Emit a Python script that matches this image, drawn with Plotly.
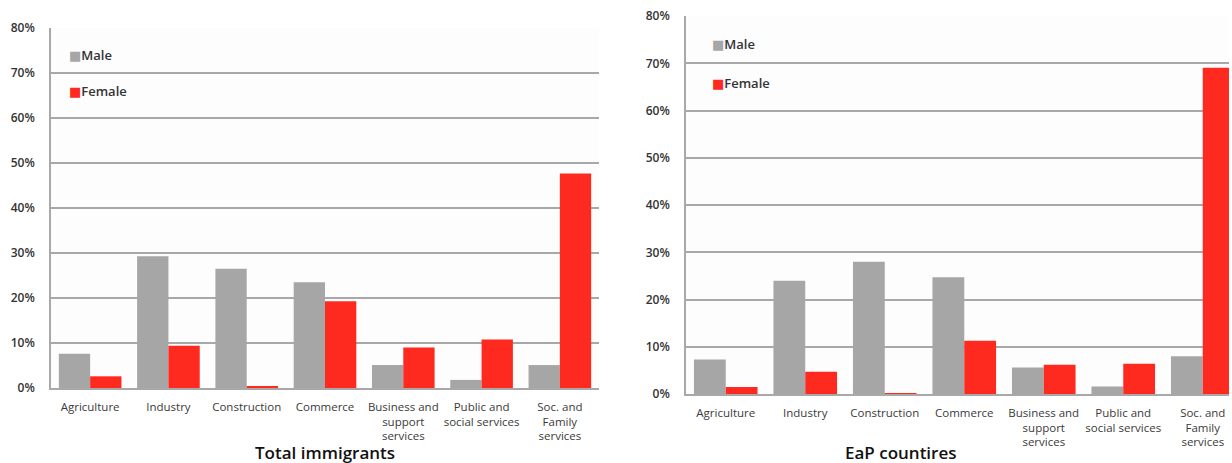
import plotly.graph_objects as go

categories = ["Agriculture", "Industry", "Construction", "Commerce",
              "Business and<br>support<br>services", "Public and<br>social services",
              "Soc. and<br>Family<br>services"]
total_male = [7.6, 29.3, 26.5, 23.5, 5.1, 1.8, 5.1]
total_female = [2.6, 9.4, 0.4, 19.3, 9.0, 10.8, 47.7]
eap_male = [7.3, 24.0, 28.0, 24.7, 5.6, 1.6, 8.0]
eap_female = [1.5, 4.7, 0.2, 11.3, 6.2, 6.4, 69.1]
y_ticks = [0, 10, 20, 30, 40, 50, 60, 70, 80]
y_tick_labels = ["0%", "10%", "20%", "30%", "40%", "50%", "60%", "70%", "80%"]
titles = ["Total immigrants", "EaP countires"]
series_names = ["Male", "Female"]

W, H = 1232, 463
MALE_C = "#a6a6a6"
FEMALE_C = "#fe2a1f"
GRID_C = "#a8a8a8"
FONT = "Open Sans"

fig = go.Figure()
fig.add_trace(go.Bar(x=categories, y=total_male, name=series_names[0], marker_color=MALE_C,
                     marker_line_width=0, xaxis="x", yaxis="y", showlegend=False))
fig.add_trace(go.Bar(x=categories, y=total_female, name=series_names[1], marker_color=FEMALE_C,
                     marker_line_width=0, xaxis="x", yaxis="y", showlegend=False))
fig.add_trace(go.Bar(x=categories, y=eap_male, name=series_names[0], marker_color=MALE_C,
                     marker_line_width=0, xaxis="x2", yaxis="y2", showlegend=False))
fig.add_trace(go.Bar(x=categories, y=eap_female, name=series_names[1], marker_color=FEMALE_C,
                     marker_line_width=0, xaxis="x2", yaxis="y2", showlegend=False))

xcommon = dict(showline=True, linecolor=GRID_C, linewidth=1.5, showgrid=False, ticks="",
               tickfont=dict(family=FONT, size=11.5, color="#3a3a3a"), ticklabelstandoff=7,
               fixedrange=True, automargin=False)
ycommon = dict(showline=True, linecolor=GRID_C, linewidth=1.5, showgrid=True, gridcolor=GRID_C,
               gridwidth=1.5, ticks="", tickmode="array", tickvals=y_ticks, ticktext=y_tick_labels,
               range=[0, 80.05], zeroline=False,
               tickfont=dict(family=FONT, size=12, color="#333333", weight=600),
               ticklabelstandoff=12, fixedrange=True, automargin=False)

fig.update_layout(
    width=W, height=H,
    margin=dict(l=0, r=0, t=0, b=0, pad=0, autoexpand=False),
    paper_bgcolor="#ffffff",
    plot_bgcolor="#fefdfe",
    barmode="group",
    bargap=0.2,
    bargroupgap=0,
    xaxis=dict(domain=[51 / W, 599 / W], anchor="y", range=[-0.5, 6.5], **xcommon),
    yaxis=dict(domain=[1 - 388 / H, 1 - 28 / H], anchor="x", **ycommon),
    xaxis2=dict(domain=[686 / W, 1229 / W], anchor="y2", range=[-0.5, 6.33], **xcommon),
    yaxis2=dict(domain=[1 - 394 / H, 1 - 16 / H], anchor="x2", **ycommon),
)

# chart titles
for txt, cx, cy in [(titles[0], 325, 452), (titles[1], 901, 452)]:
    fig.add_annotation(text=txt, xref="paper", yref="paper", x=cx / W, y=1 - cy / H,
                       xanchor="center", yanchor="middle", showarrow=False,
                       font=dict(family=FONT, size=17, color="#111111", weight=600))

# legends
for lx, ys in [(67, (55, 91)), (710, (44, 83))]:
    for name, col, ly in [(series_names[0], MALE_C, ys[0]), (series_names[1], FEMALE_C, ys[1])]:
        fig.add_annotation(
            text=f"<span style='color:{col};font-family:DejaVu Sans'>■</span>{name}",
            xref="paper", yref="paper", x=lx / W, y=1 - ly / H,
            xanchor="left", yanchor="middle", showarrow=False,
            font=dict(family=FONT, size=13, color="#333333", weight=600))

fig.write_html("out.html", config={"displayModeBar": False},
               post_script="document.body.style.margin='0';document.body.style.overflow='hidden';")
